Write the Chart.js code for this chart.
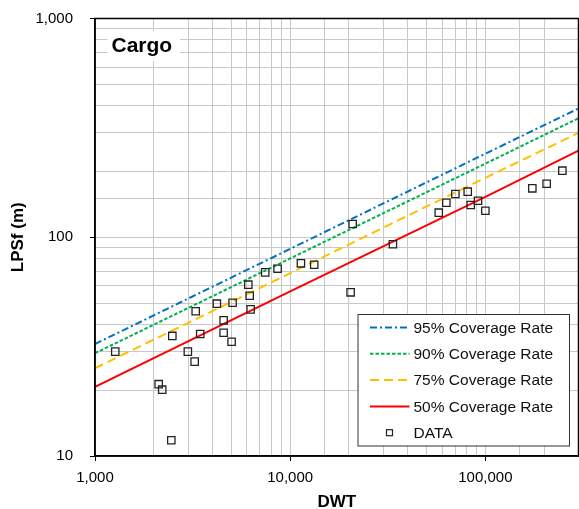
<!DOCTYPE html>
<html>
<head>
<meta charset="utf-8">
<script src="https://cdn.jsdelivr.net/npm/chart.js@4/dist/chart.umd.min.js"></script>
<style>
  body { margin: 0; background: #fff; }
  #wrap { width: 579px; height: 509px; }
</style>
</head>
<body>
<div id="wrap"><canvas id="cargoChart" width="579" height="509"></canvas></div>
<script>
// Coverage-rate lines (DWT -> LPSf)
const lineDwt = [1000, 10000, 100000, 300000];
const cov95 = [32.5, 88.5, 241, 388];
const cov90 = [29.5, 80, 217, 350];
const cov75 = [25.2, 68.5, 187, 300];
const cov50 = [20.7, 56.6, 153, 249];

// Observed ships
const dataDwt = [1270, 2120, 2210, 2460, 2490, 2990, 3240, 3280, 3460, 4210,
  4560, 4560, 5010, 5070, 6100, 6200, 6270, 7450, 8620, 11350,
  13280, 20400, 33600, 20900, 57700, 63100, 70200, 81200, 84100, 91700,
  100000, 174000, 206000, 248000];
const dataLpsf = [30.0, 21.3, 20.1, 11.8, 35.4, 30.0, 27.0, 45.9, 36.1, 49.7,
  41.7, 36.6, 33.3, 50.2, 60.7, 54.0, 46.8, 69.1, 71.8, 76.0,
  74.9, 56.0, 92.9, 115, 129.5, 143.8, 157.6, 161.6, 140.4, 146.9,
  132.2, 167.4, 175.7, 201.5];

const xTicks = [1000, 10000, 100000];
const yTicks = [10, 100, 1000];

const isPow10 = v => {
  const l = Math.log10(v);
  return Math.abs(l - Math.round(l)) < 1e-9;
};
const pts = (xs, ys) => xs.map((x, i) => ({ x: x, y: ys[i] }));

function coverage(label, ys, color, dash) {
  return {
    type: 'line', label: label, data: pts(lineDwt, ys),
    borderColor: color, borderWidth: 2, borderDash: dash,
    pointRadius: 0, fill: false, tension: 0, order: 2
  };
}

// keep tick labels from pushing the plot area in
function noPad(s) {
  s.paddingTop = 0; s.paddingBottom = 0;
  s.paddingLeft = 0; s.paddingRight = 0;
}

// legend, frame and the "Cargo" label drawn inside the plot
const overlay = {
  id: 'overlay',
  afterDraw(chart) {
    const { ctx, chartArea: a } = chart;
    ctx.save();
    ctx.strokeStyle = '#000';
    ctx.lineWidth = 1.5;
    ctx.strokeRect(a.left, a.top, a.right - a.left, a.bottom - a.top);

    ctx.fillStyle = '#fff';
    ctx.fillRect(a.left + 12.5, a.top + 12.5, 72.5, 30);
    ctx.fillStyle = '#000';
    ctx.font = 'bold 21px "Liberation Sans", Arial, sans-serif';
    ctx.textBaseline = 'alphabetic';
    ctx.fillText('Cargo', a.left + 16.5, a.top + 33.5);

    const bx = a.right - 221, by = a.bottom - 142, bw = 211.5, bh = 131.5;
    ctx.fillStyle = '#fff';
    ctx.fillRect(bx, by, bw, bh);
    ctx.strokeStyle = '#333';
    ctx.lineWidth = 1;
    ctx.strokeRect(bx + 0.5, by + 0.5, bw, bh);

    const order = [1, 2, 3, 4, 0];
    ctx.font = '15.5px "Liberation Sans", Arial, sans-serif';
    ctx.textBaseline = 'middle';
    order.forEach((di, row) => {
      const ds = chart.data.datasets[di];
      const cy = by + 13.5 + row * 26.3;
      if (ds.showLine === false) {
        ctx.strokeStyle = ds.borderColor;
        ctx.lineWidth = 1.2;
        ctx.strokeRect(bx + 29, cy - 3, 6, 6);
      } else {
        ctx.strokeStyle = ds.borderColor;
        ctx.lineWidth = ds.borderWidth;
        ctx.setLineDash(ds.borderDash || []);
        ctx.beginPath();
        ctx.moveTo(bx + 12.5, cy);
        ctx.lineTo(bx + 52, cy);
        ctx.stroke();
        ctx.setLineDash([]);
      }
      ctx.fillStyle = '#111';
      ctx.fillText(ds.label, bx + 56, cy + 1);
    });
    ctx.restore();
  }
};

new Chart(document.getElementById('cargoChart'), {
  type: 'line',
  data: {
    datasets: [
      {
        type: 'line', label: 'DATA', data: pts(dataDwt, dataLpsf),
        showLine: false, pointStyle: 'rect', pointRadius: 5.2,
        pointBorderWidth: 1.3, borderColor: '#222', pointBorderColor: '#222',
        pointBackgroundColor: 'rgba(0,0,0,0)', order: 1
      },
      coverage('95% Coverage Rate', cov95, '#0070C0', [7, 3, 2, 3]),
      coverage('90% Coverage Rate', cov90, '#00B050', [3.5, 2]),
      coverage('75% Coverage Rate', cov75, '#FFC000', [9, 5]),
      coverage('50% Coverage Rate', cov50, '#FF0000', [])
    ]
  },
  options: {
    responsive: false,
    animation: false,
    layout: { autoPadding: false, padding: { top: 18.5, right: 0.5, left: 0, bottom: 0 } },
    plugins: { legend: { display: false }, tooltip: { enabled: false } },
    scales: {
      x: {
        type: 'logarithmic', min: 1000, max: 300000,
        afterFit: s => { s.height = 53; noPad(s); },
        border: { color: '#000', width: 1.5 },
        grid: {
          color: '#C8C8C8', lineWidth: 1, tickLength: 5,
          tickColor: c => (c.tick && isPow10(c.tick.value)) ? '#000' : 'rgba(0,0,0,0)'
        },
        ticks: {
          autoSkip: false, maxRotation: 0, padding: 8, color: '#000',
          font: { family: '"Liberation Sans", Arial, sans-serif', size: 15 },
          callback: v => xTicks.includes(v) ? v.toLocaleString('en-US') : ''
        },
        title: {
          display: true, text: 'DWT', color: '#000',
          font: { family: '"Liberation Sans", Arial, sans-serif', size: 17, weight: 'bold', lineHeight: 1 },
          padding: { top: 0, bottom: -2 }
        }
      },
      y: {
        type: 'logarithmic', min: 10, max: 1000,
        afterFit: s => { s.width = 95; noPad(s); },
        border: { color: '#000', width: 1.5 },
        grid: {
          color: '#C8C8C8', lineWidth: 1, tickLength: 5,
          tickColor: c => (c.tick && isPow10(c.tick.value)) ? '#000' : 'rgba(0,0,0,0)'
        },
        ticks: {
          autoSkip: false, padding: 17, color: '#000',
          font: { family: '"Liberation Sans", Arial, sans-serif', size: 15 },
          callback: v => yTicks.includes(v) ? v.toLocaleString('en-US') : ''
        },
        title: {
          display: true, text: 'LPSf (m)', color: '#000',
          font: { family: '"Liberation Sans", Arial, sans-serif', size: 17, weight: 'bold', lineHeight: 1 },
          padding: { top: 9.5, bottom: 0 }
        }
      }
    }
  },
  plugins: [overlay]
});
</script>
</body>
</html>
